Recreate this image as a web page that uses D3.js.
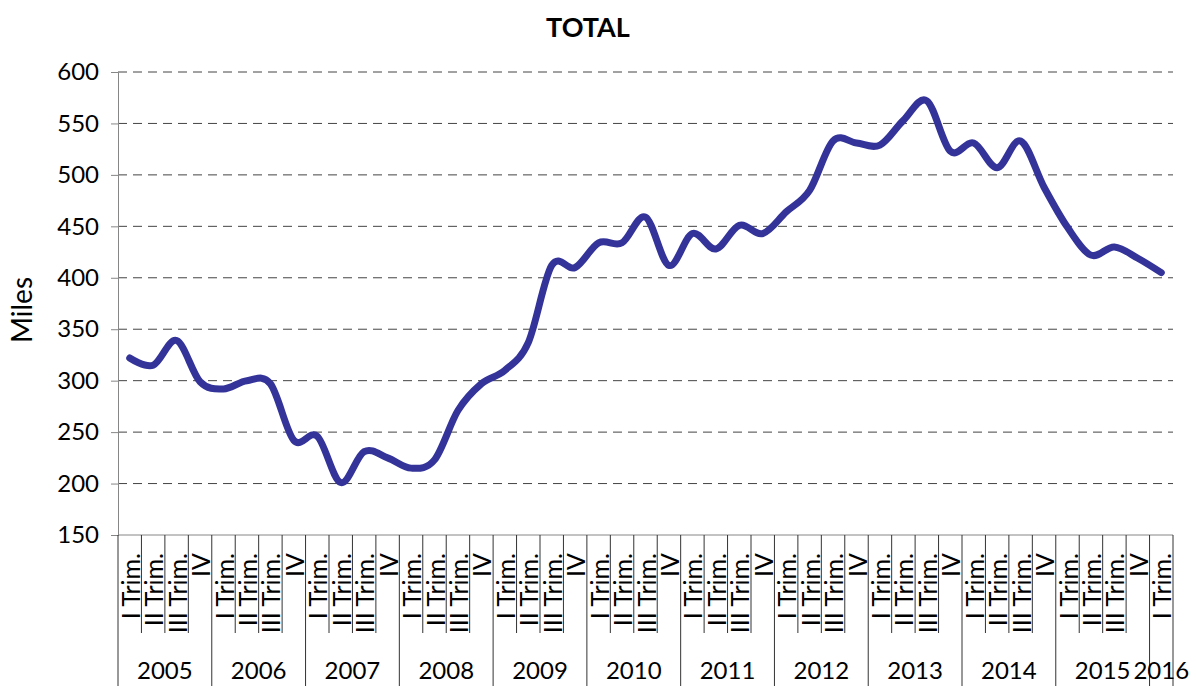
<!DOCTYPE html>
<html><head><meta charset="utf-8">
<script src="https://cdn.jsdelivr.net/npm/d3@7"></script>
<style>body{margin:0;background:#fff}svg{display:block}text{font-family:Lato,"Open Sans",sans-serif;fill:#000}</style>
</head><body><svg id="c" width="1196" height="686"></svg>
<script>
const years = ["2005","2006","2007","2008","2009","2010","2011","2012","2013","2014","2015","2016"];
const quarterLabels = ["I Trim.","II Trim.","III Trim.","IV"];
const values = [322,315,339,299,292,300,297,242,246,201,231,225,215,223,271,297,310,337,412,410,434,434,459,412,443,428,451,443,464,485,533,531,529,553,572,523,531,507,533,488,449,422,430,419,405];
const yTicks = [150,200,250,300,350,400,450,500,550,600];

const categories = values.map((v,i)=>({year: years[Math.floor(i/4)], q: quarterLabels[i%4], i}));

const svg = d3.select("#c");
const L = 118, R = 1173, T = 72, B = 535;
const x = d3.scaleBand().domain(d3.range(values.length)).range([L,R]).padding(0);
const y = d3.scaleLinear().domain([150,600]).range([B,T]);

svg.append("text").attr("x",588).attr("y",37).attr("text-anchor","middle")
  .style("font-weight","bold").style("font-size","27px").text("TOTAL");

// gridlines
svg.append("g").selectAll("line").data(yTicks.filter(d=>d>150)).join("line")
  .attr("x1",L).attr("x2",R).attr("y1",d=>y(d)).attr("y2",d=>y(d))
  .attr("stroke","#444").attr("stroke-width",1).attr("stroke-dasharray","9,6");

// y axis
const ya = svg.append("g").attr("transform",`translate(${L},0)`)
  .call(d3.axisLeft(y).tickValues(yTicks).tickSize(7).tickPadding(12));
ya.select(".domain").attr("stroke","#868686");
ya.selectAll(".tick line").attr("stroke","#868686");
ya.selectAll("text").style("font-size","24px").style("font-family","Lato, 'Open Sans', sans-serif");

svg.append("text").attr("transform",`translate(32,310) rotate(-90)`)
  .attr("text-anchor","middle").style("font-size","28px").text("Miles");

// x axis line
svg.append("line").attr("x1",L).attr("x2",R).attr("y1",B).attr("y2",B).attr("stroke","#868686");

// separators
const seps = d3.range(values.length+1);
svg.append("g").selectAll("line").data(seps).join("line")
  .attr("x1",k=>L+k*x.step()).attr("x2",k=>L+k*x.step())
  .attr("y1",B).attr("y2",k=> (k%4===0 || k===values.length) ? 686 : 633)
  .attr("stroke","#333").attr("stroke-width",1);

// quarter labels
svg.append("g").selectAll("text").data(categories).join("text")
  .attr("transform",d=>`translate(${x(d.i)+x.bandwidth()/2},553) rotate(-90)`)
  .attr("text-anchor","end").attr("dominant-baseline","central")
  .style("font-size","25px").text(d=>d.q);

// year labels
const yearGroups = d3.groups(categories, d=>d.year);
svg.append("g").selectAll("text").data(yearGroups).join("text")
  .attr("x",g=>{const a=g[1][0].i,b=g[1][g[1].length-1].i;return (x(a)+x(b)+x.bandwidth())/2;})
  .attr("y",679).attr("text-anchor","middle").style("font-size","24px").text(g=>g[0]);

// line
const line = d3.line().x((d,i)=>x(i)+x.bandwidth()/2).y(d=>y(d)).curve(d3.curveCardinal.tension(0));
svg.append("path").datum(values).attr("d",line).attr("fill","none")
  .attr("stroke","#333399").attr("stroke-width",7).attr("stroke-linecap","round").attr("stroke-linejoin","round");
</script></body></html>
